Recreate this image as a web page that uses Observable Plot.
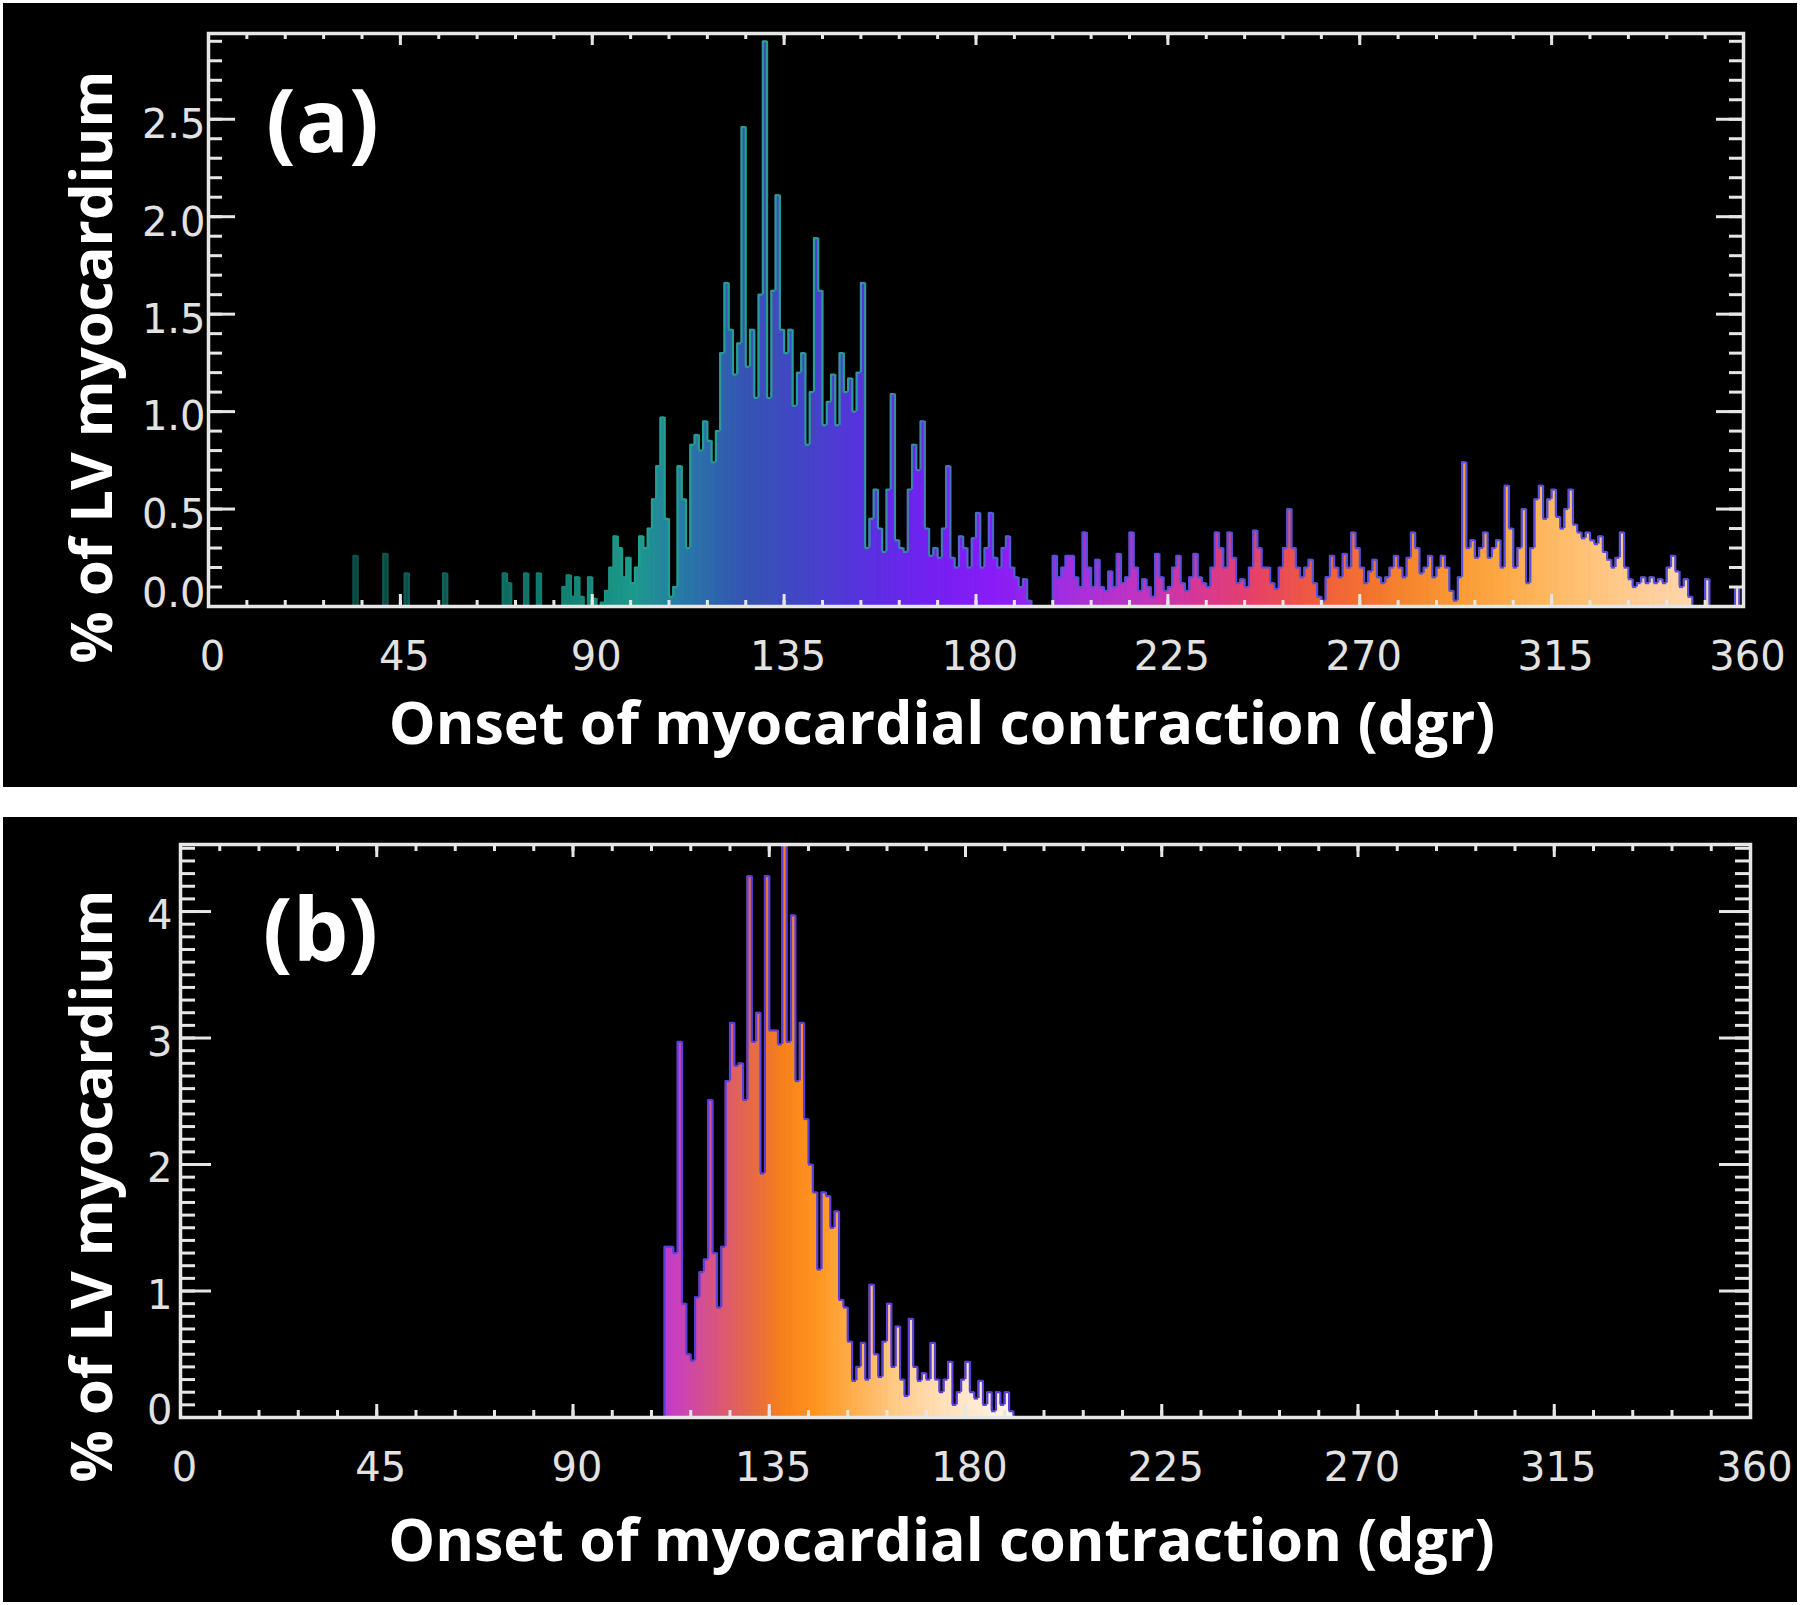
<!DOCTYPE html>
<html>
<head>
<meta charset="utf-8">
<script src="https://cdn.jsdelivr.net/npm/d3@7"></script>
<script src="https://cdn.jsdelivr.net/npm/@observablehq/plot@0.6"></script>
<style>
  html, body { margin: 0; padding: 0; background: #ffffff; }
  #wrap { position: relative; width: 1800px; height: 1605px; background: #ffffff; overflow: hidden; }
  .panel { position: absolute; left: 3px; display: block; }
</style>
</head>
<body>
<div id="wrap"></div>
<script>
// ---------------- DATA ----------------
// Shared x axis (onset angle, degrees)
const xLabels = [0, 45, 90, 135, 180, 225, 270, 315, 360];
const xMinorTicks = [0, 9, 18, 27, 36, 45, 54, 63, 72, 81, 90, 99, 108, 117, 126, 135, 144, 153, 162, 171, 180,
  189, 198, 207, 216, 225, 234, 243, 252, 261, 270, 279, 288, 297, 306, 315, 324, 333, 342, 351, 360];
const xTitle = "Onset of myocardial contraction (dgr)";
const yTitle = "% of LV myocardium";

// Panel (a): % of LV myocardium per 1-degree bin, starting at aStart
const aStart = 28;
const aValues = [
  0, 0, 0, 0, 0, 0, 0.26, 0, 0, 0,                 // 28-37
  0, 0, 0, 0.27, 0, 0, 0, 0, 0.17, 0,              // 38-47
  0, 0, 0, 0, 0, 0, 0, 0.17, 0, 0,                 // 48-57
  0, 0, 0, 0, 0, 0, 0, 0, 0, 0,                    // 58-67
  0, 0.17, 0.12, 0, 0, 0, 0.17, 0, 0, 0.17,        // 68-77
  0, 0, 0, 0, 0, 0.1, 0.16, 0.05, 0.15, 0.05,      // 78-87
  0, 0.15, 0.04, 0, 0.02, 0.08, 0.2, 0.36, 0.3, 0.15, // 88-97
  0.25, 0.12, 0.2, 0.36, 0.3, 0.4, 0.55, 0.72, 0.97, 0.45, // 98-107
  0.05, 0.1, 0.72, 0.55, 0.3, 0.83, 0.88, 0.8, 0.95, 0.85, // 108-117
  0.74, 0.9, 1.3, 1.66, 1.42, 1.19, 1.35, 2.46, 1.23, 1.42, // 118-127
  1.07, 1.6, 2.9, 1.07, 1.62, 2.11, 1.42, 1.3, 1.42, 1.03, // 128-137
  1.2, 1.3, 0.83, 1.1, 1.89, 1.62, 0.93, 1.05, 1.19, 0.93, // 138-147
  1.3, 1.1, 1.17, 1.0, 1.2, 1.66, 0.3, 0.45, 0.6, 0.4,     // 148-157
  0.28, 0.6, 1.09, 0.34, 0.3, 0.28, 0.6, 0.83, 0.7, 0.95,  // 158-167
  0.4, 0.26, 0.3, 0.25, 0.4, 0.72, 0.25, 0.2, 0.36, 0.3,   // 168-177
  0.2, 0.35, 0.48, 0.2, 0.3, 0.48, 0.25, 0.2, 0.3, 0.36,   // 178-187
  0.2, 0.15, 0.1, 0.14, 0.03, 0, 0, 0, 0, 0,               // 188-197
  0.26, 0.15, 0.2, 0.26, 0.26, 0.15, 0.1, 0.38, 0.2, 0.1,  // 198-207
  0.24, 0.1, 0.08, 0.18, 0.1, 0.27, 0.12, 0.15, 0.38, 0.2, // 208-217
  0.08, 0.14, 0.1, 0.05, 0.27, 0.15, 0.08, 0.1, 0.2, 0.26, // 218-227
  0.12, 0.08, 0.15, 0.27, 0.15, 0.12, 0.1, 0.2, 0.38, 0.3, // 228-237
  0.2, 0.38, 0.25, 0.12, 0.14, 0.1, 0.2, 0.39, 0.3, 0.2,   // 238-247
  0.2, 0.12, 0.09, 0.2, 0.3, 0.5, 0.3, 0.2, 0.15, 0.2,     // 248-257
  0.24, 0.12, 0.05, 0.03, 0.15, 0.26, 0.2, 0.15, 0.27, 0.2, // 258-267
  0.38, 0.3, 0.2, 0.12, 0.18, 0.24, 0.15, 0.12, 0.15, 0.2, // 268-277
  0.26, 0.2, 0.15, 0.25, 0.38, 0.3, 0.17, 0.2, 0.26, 0.15, // 278-287
  0.2, 0.26, 0.2, 0.08, 0.03, 0.15, 0.74, 0.3, 0.34, 0.25, // 288-297
  0.3, 0.38, 0.25, 0.3, 0.34, 0.2, 0.62, 0.4, 0.2, 0.3,    // 298-307
  0.5, 0.12, 0.3, 0.55, 0.62, 0.45, 0.55, 0.6, 0.46, 0.4,  // 308-317
  0.5, 0.6, 0.42, 0.38, 0.35, 0.38, 0.34, 0.32, 0.36, 0.28, // 318-327
  0.24, 0.2, 0.25, 0.38, 0.2, 0.14, 0.1, 0.12, 0.15, 0.12, // 328-337
  0.15, 0.12, 0.14, 0.12, 0.2, 0.26, 0.18, 0.1, 0.14, 0.05, // 338-347
  0, 0, 0, 0.14, 0, 0, 0, 0, 0, 0,                         // 348-357
  0.1                                                      // 358
];
const aYLabels = [0, 0.5, 1.0, 1.5, 2.0, 2.5];
const aYMinorTicks = [0, 0.1, 0.2, 0.3, 0.4, 0.5, 0.6, 0.7, 0.8, 0.9, 1.0, 1.1, 1.2, 1.3, 1.4, 1.5,
  1.6, 1.7, 1.8, 1.9, 2.0, 2.1, 2.2, 2.3, 2.4, 2.5, 2.6, 2.7, 2.8, 2.9];
const aYMax = 2.94;
// colour ramp along the angle axis (bar bodies) and outline colours
const aFillStops  = [28, 60, 90, 100, 112, 125, 140, 155, 170, 185, 200, 215, 230, 245, 260, 275, 290, 305, 320, 340, 360];
const aFillColors = ["#0a403a", "#0e5a52", "#138a7c", "#1c9a8d", "#2878a8", "#3356b2", "#4444c8", "#5a30e0", "#7420f2",
  "#8a1cf6", "#a02ee2", "#bb32c8", "#d4369c", "#e6406a", "#ef5c3e", "#f4782c", "#f99530", "#fdab48", "#ffbf70", "#ffd09e", "#ffe0bf"];
const aEdgeStops  = [28, 80, 100, 150, 175, 200, 360];
const aEdgeColors = ["#0c4a44", "#157a6e", "#22a08e", "#2c9a98", "#4a70c0", "#5650dc", "#5650dc"];

// Panel (b)
const bStart = 111;
const bValues = [
  1.35, 1.35, 1.3, 2.97, 0.9, 0.5, 0.45, 0.95, 1.15, 1.25,   // 111-120
  2.51, 1.3, 0.87, 1.35, 2.66, 3.12, 2.78, 2.8, 2.51, 4.28,  // 121-130
  2.97, 3.2, 1.93, 4.28, 3.06, 3.06, 2.95, 4.6, 2.97, 3.97,  // 131-140
  2.66, 3.12, 2.36, 2.0, 1.78, 1.17, 1.78, 1.75, 1.5, 1.63,  // 141-150
  0.93, 0.87, 0.6, 0.29, 0.4, 0.59, 0.3, 1.05, 0.5, 0.32,    // 151-160
  0.6, 0.9, 0.4, 0.72, 0.3, 0.17, 0.78, 0.4, 0.29, 0.35,     // 161-170
  0.3, 0.59, 0.3, 0.2, 0.3, 0.44, 0.1, 0.2, 0.3, 0.44,       // 171-180
  0.2, 0.15, 0.29, 0.1, 0.2, 0.05, 0.2, 0.1, 0.2, 0.05       // 181-190
];
const bYLabels = [0, 1, 2, 3, 4];
const bYMinorTicks = [0, 0.1, 0.2, 0.3, 0.4, 0.5, 0.6, 0.7, 0.8, 0.9, 1, 1.1, 1.2, 1.3, 1.4, 1.5, 1.6, 1.7, 1.8, 1.9,
  2, 2.1, 2.2, 2.3, 2.4, 2.5, 2.6, 2.7, 2.8, 2.9, 3, 3.1, 3.2, 3.3, 3.4, 3.5, 3.6, 3.7, 3.8, 3.9, 4, 4.1, 4.2, 4.3, 4.4, 4.5];
const bYMax = 4.53;
const bFillStops  = [111, 118, 125, 132, 138, 146, 155, 165, 175, 190];
const bFillColors = ["#c23ad2", "#d04aa0", "#dc5a70", "#e86c40", "#f7801c", "#ff9520", "#ffb050", "#ffcc8c", "#ffe0b8", "#fff4e6"];
const bEdgeStops  = [111, 190];
const bEdgeColors = ["#5a3fdc", "#5a3fdc"];

// ---------------- RENDER ----------------
const LINE = "#e6e6e6";
const TICKFONT = "DejaVu Sans";
const TITLEFONT = "'Open Sans', 'Noto Sans', sans-serif";
const TICKSPACING = 8;

function buildPanel(p) {
  const W = p.width - p.marginLeft - p.marginRight;
  const H = p.height - p.marginTop - p.marginBottom;
  const fillScale = d3.scaleLinear().domain(p.fillStops).range(p.fillColors).clamp(true);
  const edgeScale = d3.scaleLinear().domain(p.edgeStops).range(p.edgeColors).clamp(true);
  const n = p.values.length;
  const bins = p.values.map((v, i) => ({x1: p.start + i, x2: p.start + i + 1, v})).filter(d => d.v > 0);
  const edges = [];
  for (let i = 0; i <= n; i++) {
    const a = i > 0 ? p.values[i - 1] : 0;
    const b = i < n ? p.values[i] : 0;
    if (a !== b) edges.push({x: p.start + i, y1: Math.min(a, b), y2: Math.max(a, b)});
  }
  const xMajor = xLabels;
  const yMajor = p.yLabels;
  const tickTxt = {fontFamily: TICKFONT, fontSize: 40, fill: "#e2e2e2", lineAnchor: "middle", ariaLabel: "ticklabels"};

  const svg = Plot.plot({
    width: p.width, height: p.height,
    marginLeft: p.marginLeft, marginRight: p.marginRight,
    marginTop: p.marginTop, marginBottom: p.marginBottom,
    style: {background: "#000000", overflow: "visible", fontFamily: TICKFONT},
    x: {domain: [0, 360], axis: null},
    y: {domain: [0, p.yMax], axis: null},
    color: {type: "identity"},
    marks: [
      Plot.rect(bins, {x1: "x1", x2: "x2", y1: 0, y2: "v", fill: d => fillScale((d.x1 + d.x2) / 2),
        insetLeft: -0.35, insetRight: -0.35, clip: true}),
      Plot.ruleY(bins, {x1: "x1", x2: "x2", y: "v", stroke: d => edgeScale((d.x1 + d.x2) / 2),
        strokeWidth: p.edgeWidth, clip: true}),
      Plot.ruleX(edges, {x: "x", y1: "y1", y2: "y2", stroke: d => edgeScale(d.x), strokeWidth: p.edgeWidth, clip: true}),
      // x ticks (bottom & top)
      Plot.tickX(xMinorTicks, {x: d => d, insetTop: H - p.xMinorLen, stroke: LINE, strokeWidth: 3}),
      Plot.tickX(xMinorTicks, {x: d => d, insetBottom: H - p.xMinorLen, stroke: LINE, strokeWidth: 3}),
      Plot.tickX(xMajor, {x: d => d, insetTop: H - p.xMajorLen, stroke: LINE, strokeWidth: 3}),
      Plot.tickX(xMajor, {x: d => d, insetBottom: H - p.xMajorLen, stroke: LINE, strokeWidth: 3}),
      // y ticks (left & right)
      Plot.tickY(p.yMinorTicks, {y: d => d, insetRight: W - p.yMinorLen, stroke: LINE, strokeWidth: 3}),
      Plot.tickY(p.yMinorTicks, {y: d => d, insetLeft: W - p.yMinorLen, stroke: LINE, strokeWidth: 3}),
      Plot.tickY(yMajor, {y: d => d, insetRight: W - p.yMajorLen, stroke: LINE, strokeWidth: 3}),
      Plot.tickY(yMajor, {y: d => d, insetLeft: W - p.yMajorLen, stroke: LINE, strokeWidth: 3}),
      Plot.frame({stroke: LINE, strokeWidth: 3.5}),
      // tick labels
      Plot.text(xLabels, {x: d => d, text: d => String(d), frameAnchor: "bottom", textAnchor: "middle",
        dx: TICKSPACING / 2, dy: p.xLabelDy, ...tickTxt}),
      Plot.text(p.yLabels.filter(d => d > 0), {y: d => d, text: p.yFormat, frameAnchor: "left", textAnchor: "end",
        dx: -p.yLabelGap + TICKSPACING, dy: p.yLabelDy, ...tickTxt}),
      Plot.text(p.yLabels.filter(d => d === 0), {y: d => d, text: p.yFormat, frameAnchor: "left", textAnchor: "end",
        dx: -p.yLabelGap + TICKSPACING, dy: p.yZeroDy, ...tickTxt}),
      // titles
      Plot.text([xTitle], {text: d => d, frameAnchor: "bottom", textAnchor: "middle", lineAnchor: "middle",
        dx: p.xTitleDx, dy: p.xTitleDy,
        fontFamily: TITLEFONT, fontWeight: "bold", fontSize: 59, fill: "#ffffff"}),
      Plot.text([yTitle], {text: d => d, frameAnchor: "left", textAnchor: "middle", lineAnchor: "middle", rotate: -90,
        dx: p.yTitleDx, dy: p.yTitleDy,
        fontFamily: TITLEFONT, fontWeight: "bold", fontSize: 58, fill: "#ffffff"}),
      Plot.text([p.letter], {text: d => d, frameAnchor: "top-left", textAnchor: "middle", lineAnchor: "middle",
        dx: p.letterDx, dy: p.letterDy,
        fontFamily: TITLEFONT, fontWeight: "bold", fontSize: 88, fill: "#ffffff"})
    ]
  });
  svg.querySelectorAll('g[aria-label="ticklabels"] text').forEach(t => t.setAttribute("letter-spacing", String(TICKSPACING)));
  svg.classList.add("panel");
  svg.style.top = p.top + "px";
  return svg;
}

const wrap = document.getElementById("wrap");
wrap.appendChild(buildPanel({
  top: 3, width: 1794, height: 784,
  marginLeft: 205, marginRight: 54, marginTop: 30, marginBottom: 181,
  start: aStart, values: aValues, yMax: aYMax,
  yLabels: aYLabels, yMinorTicks: aYMinorTicks, yFormat: d => d.toFixed(1),
  fillStops: aFillStops, fillColors: aFillColors, edgeStops: aEdgeStops, edgeColors: aEdgeColors,
  edgeWidth: 2.2,
  xMinorLen: 6, xMajorLen: 12, yMinorLen: 14, yMajorLen: 27,
  xLabelDy: 51, yLabelGap: 11, yLabelDy: 6, yZeroDy: -12,
  xTitleDx: -34, xTitleDy: 119, yTitleDx: -115, yTitleDy: 47,
  letter: "(a)", letterDx: 114, letterDy: 90
}));
wrap.appendChild(buildPanel({
  top: 817, width: 1794, height: 785,
  marginLeft: 177, marginRight: 47, marginTop: 27, marginBottom: 185,
  start: bStart, values: bValues, yMax: bYMax,
  yLabels: bYLabels, yMinorTicks: bYMinorTicks, yFormat: d => String(d),
  fillStops: bFillStops, fillColors: bFillColors, edgeStops: bEdgeStops, edgeColors: bEdgeColors,
  edgeWidth: 2.2,
  xMinorLen: 7, xMajorLen: 13, yMinorLen: 15, yMajorLen: 31,
  xLabelDy: 51, yLabelGap: 16, yLabelDy: 5, yZeroDy: -6,
  xTitleDx: -24, xTitleDy: 125, yTitleDx: -87, yTitleDy: 55,
  letter: "(b)", letterDx: 140, letterDy: 88
}));
</script>
</body>
</html>
